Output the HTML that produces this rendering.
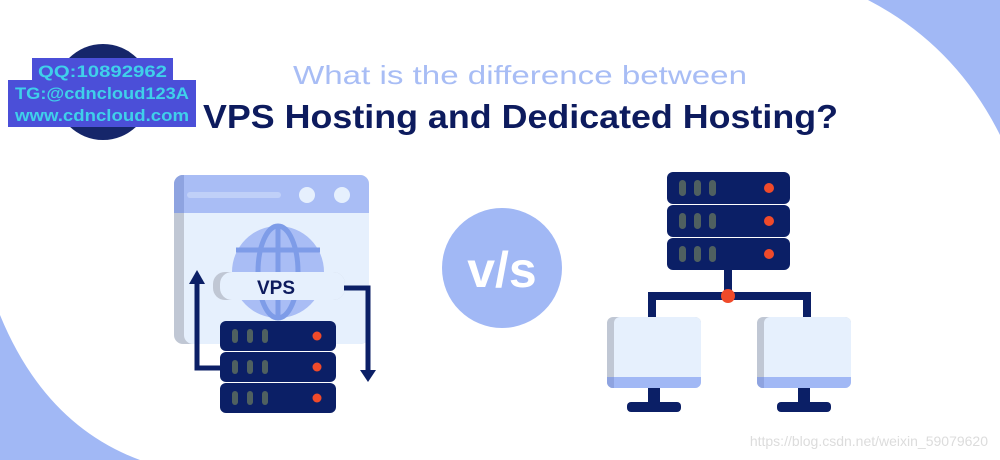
<!DOCTYPE html>
<html><head><meta charset="utf-8"><style>
html,body{margin:0;padding:0;background:#fff;}
svg{display:block;}
</style></head><body>
<svg width="1000" height="460" viewBox="0 0 1000 460" xmlns="http://www.w3.org/2000/svg" font-family="Liberation Sans, sans-serif">
<rect width="1000" height="460" fill="#fff"/>
<path d="M868,0 Q955,45 1000,135 L1000,0 Z" fill="#a1b8f5"/>
<path d="M0,315 Q45,425 140,460 L0,460 Z" fill="#a1b8f5"/>
<!-- logo -->
<circle cx="103" cy="92" r="48" fill="#16266a"/>
<rect x="32" y="58" width="141" height="23" fill="#4b4fd8"/>
<rect x="8" y="80" width="188" height="47" fill="#4b4fd8"/>
<g fill="#3fd0ea" font-weight="bold" font-size="17">
<text x="38" y="77" textLength="129" lengthAdjust="spacingAndGlyphs">QQ:10892962</text>
<text x="15" y="99" textLength="174" lengthAdjust="spacingAndGlyphs">TG:@cdncloud123A</text>
<text x="15" y="121" textLength="174" lengthAdjust="spacingAndGlyphs">www.cdncloud.com</text>
</g>
<!-- titles -->
<text x="293" y="84" font-size="26" fill="#a8bdf5" textLength="454" lengthAdjust="spacingAndGlyphs">What is the difference between</text>
<text x="203" y="128" font-size="33" font-weight="bold" fill="#0d1b5e" textLength="635" lengthAdjust="spacingAndGlyphs">VPS Hosting and Dedicated Hosting?</text>
<!-- window -->
<rect x="174" y="175" width="195" height="169" rx="9" fill="#c0c7d4"/>
<rect x="184" y="175" width="185" height="169" rx="9" fill="#e6f0fd"/>
<path d="M174,213 V184 a9,9 0 0 1 9,-9 H360 a9,9 0 0 1 9,9 V213 Z" fill="#a9bdf5"/>
<path d="M174,213 V184 a9,9 0 0 1 9,-9 H184 V213 Z" fill="#8ea3e0"/>
<rect x="187" y="192" width="94" height="6" rx="3" fill="#c0d0f8"/>
<circle cx="307" cy="195" r="8" fill="#e6f0fd"/>
<circle cx="342" cy="195" r="8" fill="#e6f0fd"/>
<!-- globe -->
<circle cx="278" cy="272" r="46" fill="#a9bdf5"/>
<g fill="none" stroke="#7e9ce8" stroke-width="5">
<ellipse cx="278" cy="272" rx="20" ry="46"/>
<line x1="278" y1="226" x2="278" y2="318"/>
<line x1="236" y1="250" x2="320" y2="250"/>
<line x1="236" y1="294" x2="320" y2="294"/>
</g>
<rect x="213" y="272" width="132" height="28" rx="12" fill="#c0c7d4"/>
<rect x="220" y="272" width="125" height="28" rx="12" fill="#e6f0fd"/>
<text x="276" y="294" text-anchor="middle" font-size="19" font-weight="bold" fill="#0d1b5e">VPS</text>
<!-- arrows -->
<path d="M221,368 H197 V282" fill="none" stroke="#0b1f66" stroke-width="5"/>
<polygon points="189,284 205,284 197,270" fill="#0b1f66"/>
<path d="M344,288 H368 V372" fill="none" stroke="#0b1f66" stroke-width="5"/>
<polygon points="360,370 376,370 368,382" fill="#0b1f66"/>
<!-- left servers -->
<g id="srvL">
<rect x="220" y="321" width="116" height="30" rx="6" fill="#0b1f66"/>
<rect x="232" y="329" width="6" height="14" rx="3" fill="#4f6060"/>
<rect x="247" y="329" width="6" height="14" rx="3" fill="#4f6060"/>
<rect x="262" y="329" width="6" height="14" rx="3" fill="#4f6060"/>
<circle cx="317" cy="336" r="4.5" fill="#f04a2a"/>
</g>
<use href="#srvL" y="31"/>
<use href="#srvL" y="62"/>
<!-- vs -->
<circle cx="502" cy="268" r="60" fill="#a1b8f5"/>
<text x="502" y="287" text-anchor="middle" font-size="50" font-weight="bold" fill="#fff">v/s</text>
<!-- right servers -->
<g id="srvR">
<rect x="667" y="172" width="123" height="32" rx="6" fill="#0b1f66"/>
<rect x="679" y="180" width="7" height="16" rx="3.5" fill="#4f6060"/>
<rect x="694" y="180" width="7" height="16" rx="3.5" fill="#4f6060"/>
<rect x="709" y="180" width="7" height="16" rx="3.5" fill="#4f6060"/>
<circle cx="769" cy="188" r="5" fill="#f04a2a"/>
</g>
<use href="#srvR" y="33"/>
<use href="#srvR" y="66"/>
<path d="M728,268 V296 M652,317 V296 H807 V317" fill="none" stroke="#0b1f66" stroke-width="8"/>
<circle cx="728" cy="296" r="7" fill="#f04a2a"/>
<!-- monitors -->
<g id="mon">
<rect x="648" y="385" width="12" height="18" fill="#0b1f66"/>
<rect x="627" y="402" width="54" height="10" rx="4" fill="#0b1f66"/>
<rect x="607" y="317" width="94" height="71" rx="6" fill="#c0c7d4"/>
<rect x="614" y="317" width="87" height="71" rx="6" fill="#e6f0fd"/>
<path d="M607,377 H701 V382 a6,6 0 0 1 -6,6 H613 a6,6 0 0 1 -6,-6 Z" fill="#a1b8f5"/>
<path d="M607,377 H614 V388 H613 a6,6 0 0 1 -6,-6 Z" fill="#8ea3e0"/>
</g>
<use href="#mon" x="150"/>
<text x="988" y="446" text-anchor="end" font-size="14" fill="#dcdcdc">https://blog.csdn.net/weixin_59079620</text>
</svg>
</body></html>
